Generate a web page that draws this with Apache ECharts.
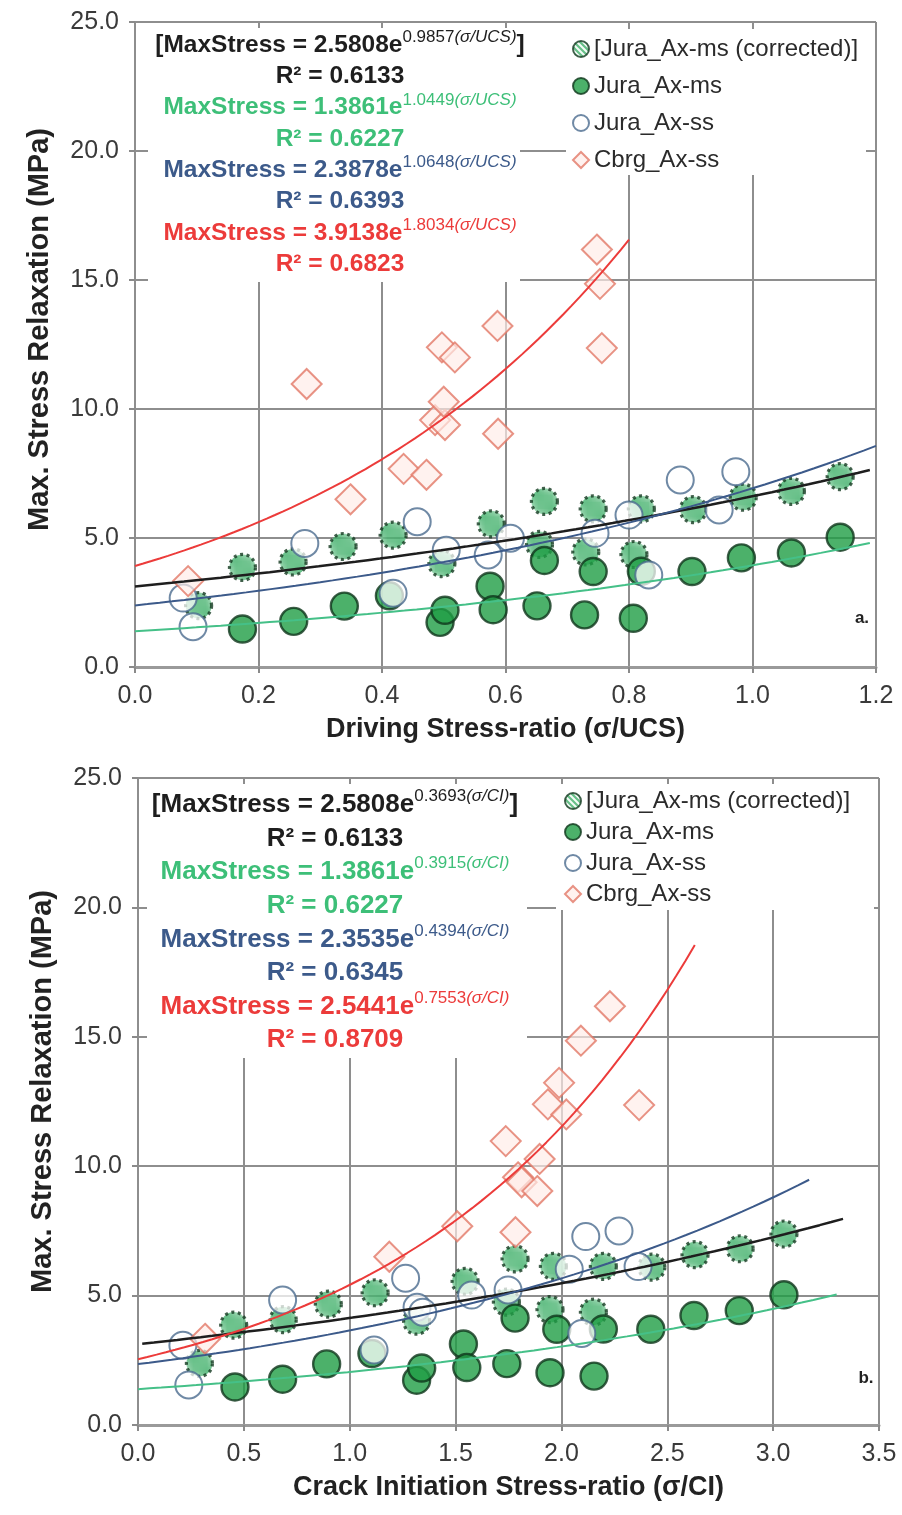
<!DOCTYPE html>
<html>
<head>
<meta charset="utf-8">
<script src="https://cdn.jsdelivr.net/npm/echarts@6/dist/echarts.min.js"></script>
<style>
  html, body { margin: 0; padding: 0; background: #fff; }
  #chart { width: 902px; height: 1515px; }
</style>
</head>
<body>
<div id="chart"></div>
<script>
// ---------------- data ----------------
// Jura_Ax-ms samples: max stress relaxation (MPa), σ/UCS and σ/CI
const msStress = [1.47, 1.77, 2.36, 1.73, 2.20, 3.13, 2.22, 2.37, 4.13, 2.02, 3.70, 1.89, 3.71, 3.70, 4.23, 4.42, 5.03, 2.76];
const msUcs    = [0.174, 0.257, 0.339, 0.494, 0.502, 0.575, 0.580, 0.651, 0.663, 0.728, 0.742, 0.807, 0.820, 0.902, 0.982, 1.063, 1.142, 0.412];
const msCi     = [0.458, 0.683, 0.891, 1.316, 1.340, 1.537, 1.553, 1.742, 1.781, 1.946, 1.978, 2.154, 2.198, 2.422, 2.626, 2.840, 3.051, 1.105];

// [Jura_Ax-ms (corrected)] samples
const corrStress = [2.38, 3.86, 4.07, 4.67, 5.11, 4.01, 5.55, 4.75, 6.42, 4.46, 6.13, 4.36, 6.13, 6.10, 6.58, 6.81, 7.38];
const corrUcs    = [0.103, 0.174, 0.256, 0.337, 0.418, 0.497, 0.577, 0.655, 0.663, 0.730, 0.742, 0.808, 0.820, 0.904, 0.985, 1.063, 1.142];
const corrCi     = [0.290, 0.452, 0.686, 0.899, 1.120, 1.316, 1.545, 1.740, 1.781, 1.946, 1.962, 2.151, 2.198, 2.427, 2.631, 2.844, 3.051];

// Jura_Ax-ss samples
const ssUcs       = [0.078, 0.094, 0.275, 0.418, 0.457, 0.504, 0.572, 0.608, 0.745, 0.800, 0.832, 0.883, 0.946, 0.973];
const ssStressUcs = [2.67, 1.56, 4.79, 2.86, 5.63, 4.53, 4.34, 4.99, 5.18, 5.89, 3.57, 7.25, 6.09, 7.57];
const ssCi        = [0.212, 0.240, 0.683, 1.115, 1.264, 1.318, 1.345, 1.576, 1.748, 2.037, 2.096, 2.115, 2.362, 2.272];
const ssStressCi  = [3.08, 1.55, 4.83, 2.90, 5.67, 4.55, 4.36, 5.02, 5.22, 6.02, 3.54, 7.28, 6.12, 7.50];

// Cbrg_Ax-ss samples
const cbStress = [3.33, 10.97, 6.50, 7.68, 7.45, 9.57, 9.38, 10.28, 12.39, 12.00, 13.22, 9.04, 16.18, 14.85, 12.36];
const cbUcs    = [0.086, 0.278, 0.349, 0.435, 0.472, 0.486, 0.502, 0.500, 0.497, 0.518, 0.587, 0.588, 0.748, 0.753, 0.756];
const cbCi     = [0.317, 1.737, 1.187, 1.508, 1.783, 1.795, 1.812, 1.897, 1.936, 2.023, 1.989, 1.886, 2.229, 2.092, 2.367];

// exponential trend lines: [coefficient, exponent] and plotted x-range
const fitMsUcs = [1.3861, 1.0449], rangeMsUcs = [0, 1.19];
const fitSsUcs = [2.3878, 1.0648], rangeSsUcs = [0, 1.20];
const fitCbUcs = [3.9138, 1.8034], rangeCbUcs = [0, 0.80];
const rangeCorrUcs = [0, 1.19];
const fitMsCi = [1.3861, 0.3915], rangeMsCi = [0, 3.30];
const fitSsCi = [2.3535, 0.4394], rangeSsCi = [0, 3.17];
const fitCbCi = [2.5441, 0.7553], rangeCbCi = [0, 2.63];
const rangeCorrCi = [0.02, 3.33];

// equation annotations: [main, exponent, argument, closing, R²]
const eqUcs = [
  ['[MaxStress = 2.5808e', '0.9857', '(σ/UCS)', ']', 'R² = 0.6133'],
  ['MaxStress = 1.3861e', '1.0449', '(σ/UCS)', '', 'R² = 0.6227'],
  ['MaxStress = 2.3878e', '1.0648', '(σ/UCS)', '', 'R² = 0.6393'],
  ['MaxStress = 3.9138e', '1.8034', '(σ/UCS)', '', 'R² = 0.6823']
];
const eqCi = [
  ['[MaxStress = 2.5808e', '0.3693', '(σ/CI)', ']', 'R² = 0.6133'],
  ['MaxStress = 1.3861e', '0.3915', '(σ/CI)', '', 'R² = 0.6227'],
  ['MaxStress = 2.3535e', '0.4394', '(σ/CI)', '', 'R² = 0.6345'],
  ['MaxStress = 2.5441e', '0.7553', '(σ/CI)', '', 'R² = 0.8709']
];
const seriesNames = ['[Jura_Ax-ms (corrected)]', 'Jura_Ax-ms', 'Jura_Ax-ss', 'Cbrg_Ax-ss'];
const xTitles = ['Driving Stress-ratio (σ/UCS)', 'Crack Initiation Stress-ratio (σ/CI)'];
const yTitle = 'Max. Stress Relaxation (MPa)';
const panelTags = ['a.', 'b.'];

// ---------------- helpers ----------------
const FONT = "'Liberation Sans', Arial, sans-serif";
const C_BLACK = '#1e1e1e', C_GREEN = '#3dbf78', C_BLUE = '#3c5a8a', C_RED = '#ec3b3a';

const pairs = (xs, ys) => xs.map((x, i) => [x, ys[i]]);

function expCurve(coef, range, n) {
  const pts = [];
  for (let i = 0; i <= n; i++) {
    const x = range[0] + (range[1] - range[0]) * i / n;
    pts.push([x, coef[0] * Math.exp(coef[1] * x)]);
  }
  return pts;
}

// least-squares exponential fit (linear regression on ln y)
function expFit(xs, ys) {
  const n = xs.length;
  let sx = 0, sy = 0, sxx = 0, sxy = 0;
  for (let i = 0; i < n; i++) {
    const ly = Math.log(ys[i]);
    sx += xs[i]; sy += ly; sxx += xs[i] * xs[i]; sxy += xs[i] * ly;
  }
  const b = (n * sxy - sx * sy) / (n * sxx - sx * sx);
  const a = Math.exp((sy - b * sx) / n);
  return [a, b];
}

// green/white diagonal hatch used to fill the corrected markers
function makeHatch() {
  const c = document.createElement('canvas');
  c.width = 6; c.height = 6;
  const g = c.getContext('2d');
  g.fillStyle = '#f2fbf5';
  g.fillRect(0, 0, 6, 6);
  g.strokeStyle = '#40b06a';
  g.lineWidth = 2.2;
  g.beginPath();
  g.moveTo(-1, -1); g.lineTo(7, 7);
  g.moveTo(-4, 2); g.lineTo(4, 10);
  g.moveTo(2, -4); g.lineTo(10, 4);
  g.stroke();
  return c;
}
const hatch = makeHatch();

const styleCorr = { color: { image: hatch, repeat: 'repeat' }, borderColor: '#143a20', borderWidth: 3.2, borderType: [3, 3.5] };
const styleMs = { color: '#1f9e45', borderColor: '#0f361b', borderWidth: 2.4 };
const styleSs = { color: 'rgba(255,255,255,0.92)', borderColor: '#4b6b8f', borderWidth: 2 };
const styleCb = { color: 'rgba(255,236,232,0.85)', borderColor: '#e27866', borderWidth: 2 };

function scatterSeries(p, name, data, symbol, size, itemStyle, z) {
  return { type: 'scatter', name, xAxisIndex: p, yAxisIndex: p, data, symbol, symbolSize: size, itemStyle, z, silent: true };
}
function lineSeries(p, name, data, color, width) {
  return { type: 'line', name, xAxisIndex: p, yAxisIndex: p, data, showSymbol: false, smooth: false, z: 6, silent: true,
           lineStyle: { color, width } };
}

function eqRich(size, sup, color) {
  return {
    m: { fontSize: size, fontWeight: 'bold', fontFamily: FONT, fill: color, color, lineHeight: size + 8 },
    s: { fontSize: sup, fontFamily: FONT, fill: color, color, lineHeight: 12, verticalAlign: 'top' },
    si: { fontSize: sup, fontStyle: 'italic', fontFamily: FONT, fill: color, color, lineHeight: 12, verticalAlign: 'top' }
  };
}

function eqBlock(eqs, cx, y0, step, size, sup) {
  const colors = [C_BLACK, C_GREEN, C_BLUE, C_RED];
  const els = [];
  eqs.forEach((e, i) => {
    const col = colors[i];
    const main = '{m|' + e[0] + '}{s|' + e[1] + '}{si|' + e[2] + '}' + (e[3] ? '{m|' + e[3] + '}' : '');
    els.push({ type: 'text', z: 10, style: { text: main, x: cx, y: y0 + step * (2 * i), align: 'center', textAlign: 'center',
      verticalAlign: 'middle', textVerticalAlign: 'middle', rich: eqRich(size, sup, col) } });
    els.push({ type: 'text', z: 10, style: { text: e[4], x: cx, y: y0 + step * (2 * i + 1), align: 'center', textAlign: 'center',
      verticalAlign: 'middle', textVerticalAlign: 'middle', fill: col, fontSize: size, fontWeight: 'bold', fontFamily: FONT } });
  });
  return els;
}

// ---------------- layout of the two panels ----------------
const grids = [
  { left: 135, top: 22, width: 741, height: 645 },
  { left: 138, top: 778, width: 741, height: 647 }
];

function xAxisFor(p, max, interval) {
  return {
    type: 'value', gridIndex: p, min: 0, max, interval,
    name: xTitles[p], nameLocation: 'middle', nameGap: 49,
    nameTextStyle: { fontSize: 27, fontWeight: 'bold', fontFamily: FONT, color: '#222' },
    axisLine: { show: true, lineStyle: { color: '#9a9a9a', width: 3 } },
    axisTick: { show: true, length: 6, lineStyle: { color: '#8a8a8a', width: 2 } },
    axisLabel: { fontSize: 25, fontFamily: FONT, color: '#3a3a3a', margin: 17,
                 formatter: v => v.toFixed(1) },
    splitLine: { show: true, lineStyle: { color: '#8e8e8e', width: 2 } }
  };
}
function yAxisFor(p, shift) {
  return {
    type: 'value', gridIndex: p, min: 0, max: 25, interval: 5,
    name: yTitle, nameLocation: 'middle', nameGap: 81, nameRotate: 90,
    nameTextStyle: { fontSize: 29, fontWeight: 'bold', fontFamily: FONT, color: '#222', padding: [0, 0, 0, shift] },
    axisLine: { show: true, lineStyle: { color: '#8e8e8e', width: 2 } },
    axisTick: { show: true, length: 6, lineStyle: { color: '#8a8a8a', width: 2 } },
    axisLabel: { fontSize: 25, fontFamily: FONT, color: '#3a3a3a', margin: 16,
                 formatter: v => v.toFixed(1) },
    splitLine: { show: true, lineStyle: { color: '#8e8e8e', width: 2 } }
  };
}

const corrFitUcs = expFit(corrUcs, corrStress);
const corrFitCi = expFit(corrCi, corrStress);

const series = [
  // panel a: σ/UCS
  scatterSeries(0, seriesNames[0], pairs(corrUcs, corrStress), 'circle', 26, styleCorr, 2),
  scatterSeries(0, seriesNames[1], pairs(msUcs, msStress), 'circle', 27, styleMs, 3),
  scatterSeries(0, seriesNames[2], pairs(ssUcs, ssStressUcs), 'circle', 27, styleSs, 4),
  scatterSeries(0, seriesNames[3], pairs(cbUcs, cbStress), 'diamond', 30, styleCb, 5),
  lineSeries(0, 'fit corrected σ/UCS', expCurve(corrFitUcs, rangeCorrUcs, 60), C_BLACK, 2.5),
  lineSeries(0, 'fit ms σ/UCS', expCurve(fitMsUcs, rangeMsUcs, 60), '#45c088', 2),
  lineSeries(0, 'fit ss σ/UCS', expCurve(fitSsUcs, rangeSsUcs, 60), C_BLUE, 2),
  lineSeries(0, 'fit cbrg σ/UCS', expCurve(fitCbUcs, rangeCbUcs, 60), C_RED, 2),
  // panel b: σ/CI
  scatterSeries(1, seriesNames[0], pairs(corrCi, corrStress), 'circle', 26, styleCorr, 2),
  scatterSeries(1, seriesNames[1], pairs(msCi, msStress), 'circle', 27, styleMs, 3),
  scatterSeries(1, seriesNames[2], pairs(ssCi, ssStressCi), 'circle', 27, styleSs, 4),
  scatterSeries(1, seriesNames[3], pairs(cbCi, cbStress), 'diamond', 30, styleCb, 5),
  lineSeries(1, 'fit corrected σ/CI', expCurve(corrFitCi, rangeCorrCi, 60), C_BLACK, 2.5),
  lineSeries(1, 'fit ms σ/CI', expCurve(fitMsCi, rangeMsCi, 60), '#45c088', 2),
  lineSeries(1, 'fit ss σ/CI', expCurve(fitSsCi, rangeSsCi, 60), C_BLUE, 2),
  lineSeries(1, 'fit cbrg σ/CI', expCurve(fitCbCi, rangeCbCi, 60), C_RED, 2)
];

function legendFor(left, top, gap) {
  return {
    orient: 'vertical', left, top, padding: 0, itemGap: gap, itemWidth: 16, itemHeight: 16,
    selectedMode: false, data: seriesNames,
    textStyle: { fontSize: 24, fontFamily: FONT, color: '#2b2b2b', lineHeight: 24 }
  };
}

// white panels behind the annotation blocks
const boxes = [
  { type: 'rect', z: 3, shape: { x: 148, y: 28, width: 372, height: 254 }, style: { fill: '#fff' } },
  { type: 'rect', z: 3, shape: { x: 566, y: 29, width: 300, height: 146 }, style: { fill: '#fff' } },
  { type: 'rect', z: 3, shape: { x: 147, y: 784, width: 380, height: 274 }, style: { fill: '#fff' } },
  { type: 'rect', z: 3, shape: { x: 556, y: 784, width: 318, height: 126 }, style: { fill: '#fff' } }
];
const tags = [
  { type: 'text', z: 10, style: { text: panelTags[0], x: 862, y: 618, align: 'center', verticalAlign: 'middle', fill: '#222', fontSize: 17, fontWeight: 'bold', fontFamily: FONT } },
  { type: 'text', z: 10, style: { text: panelTags[1], x: 866, y: 1378, align: 'center', verticalAlign: 'middle', fill: '#222', fontSize: 17, fontWeight: 'bold', fontFamily: FONT } }
];

const option = {
  backgroundColor: '#fff',
  animation: false,
  grid: grids,
  xAxis: [xAxisFor(0, 1.2, 0.2), xAxisFor(1, 3.5, 0.5)],
  yAxis: [yAxisFor(0, 30), yAxisFor(1, 20)],
  legend: [legendFor(572, 37, 13), legendFor(564, 789, 7)],
  graphic: [].concat(boxes, eqBlock(eqUcs, 340, 45, 31.3, 24.5, 17), eqBlock(eqCi, 335, 805, 33.6, 26, 17), tags),
  series
};

const chart = echarts.init(document.getElementById('chart'), null, { renderer: 'canvas' });
chart.setOption(option);
</script>
</body>
</html>
